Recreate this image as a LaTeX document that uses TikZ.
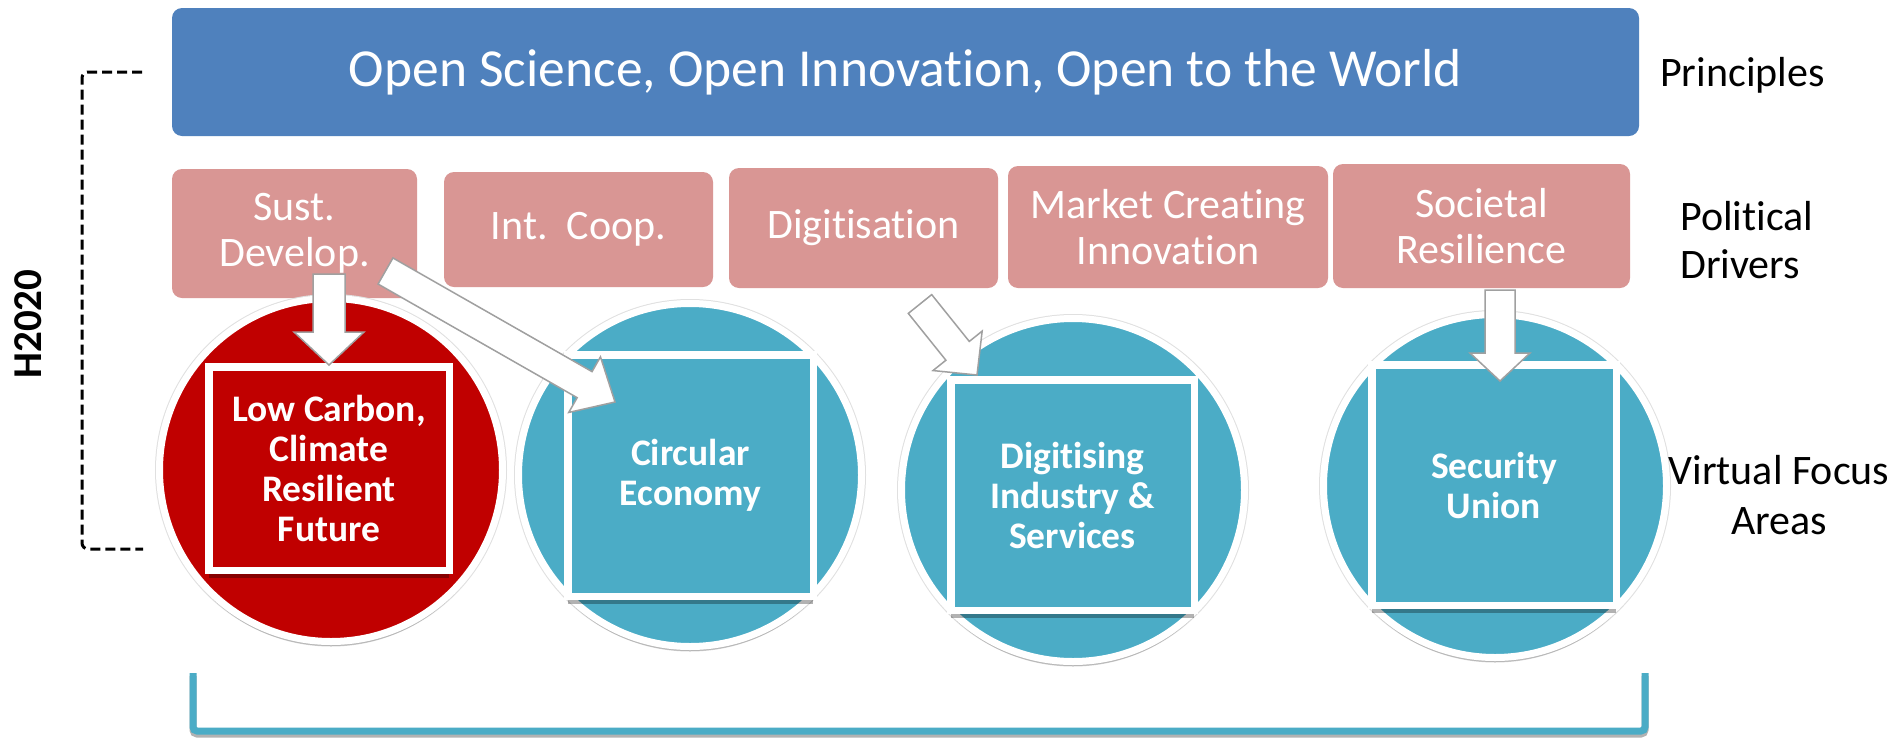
\documentclass[tikz,border=0pt]{standalone}
\usepackage{fontspec}
\setmainfont{Carlito}[Ligatures={NoCommon}]
\usetikzlibrary{calc,shadows}
\definecolor{obblue}{HTML}{4F81BD}
\definecolor{obpink}{HTML}{D99694}
\definecolor{obred}{HTML}{C00000}
\definecolor{obteal}{HTML}{4BACC6}
\definecolor{arrgray}{HTML}{A0A0A0}
\newcommand{\fs}[2]{\fontsize{#1}{#2}\selectfont}
\newcommand{\barrow}[5]{%
  \coordinate (hb) at ($(#2)!#5!(#1)$);
  \draw[blockarr] ($(#1)!#3!90:(#2)$) -- ($(hb)!#3!90:(#2)$) -- ($(hb)!#4!90:(#2)$) -- (#2)
    -- ($(hb)!#4!-90:(#2)$) -- ($(hb)!#3!-90:(#2)$) -- ($(#1)!#3!-90:(#2)$) -- cycle;}
\tikzset{
  bluebox/.style={fill=obblue, rounded corners=10pt, text=white, font=\fs{53.5}{64}, inner sep=0},
  drvbox/.style={fill=obpink, rounded corners=10pt, text=white, align=center, font=\fs{42}{46}, inner sep=0},
  focus/.style={circle, draw=white, line width=7pt, inner sep=0, minimum size=343pt,
    preaction={draw=black!12, line width=9pt},
    drop shadow={shadow xshift=0pt, shadow yshift=-5pt, opacity=.18, fill=black}},
  area/.style={draw=white, line width=7.5pt, align=center, text=white, font=\bfseries\fs{37.5}{40}, inner sep=0,
    drop shadow={shadow xshift=0pt, shadow yshift=-8pt, opacity=.3, fill=black}},
  blockarr/.style={draw=arrgray, fill=white, line width=1.5pt, line join=miter},
  sidelabel/.style={font=\fs{42}{48}, inner sep=0, text=black},
  dashbr/.style={draw=black, line width=3pt, dash pattern=on 10pt off 5pt, rounded corners=6pt},
  tealbr/.style={draw=obteal, line width=7pt, rounded corners=4pt}
}
\begin{document}
\begin{tikzpicture}[x=1pt, y=-1pt]
\useasboundingbox (0,0) rectangle (1891,737);
\fill[white] (0,0) rectangle (1891,737);

% principles
\node[bluebox, minimum width=1467pt, minimum height=128pt] (open) at (905.5,72) {Open Science, Open Innovation, Open to the World};

% political drivers
\node[drvbox, minimum width=245pt, minimum height=129pt] (d1) at (294.5,233.5) {Sust.\\Develop.};
\node[drvbox, minimum width=269pt, minimum height=115pt] (d2) at (578.5,229.5) {Int.\ \ Coop.};
\node[drvbox, minimum width=269pt, minimum height=120pt] (d3) at (863.5,228) {Digitisation};
\node[drvbox, minimum width=320pt, minimum height=122pt] (d4) at (1168,227) {Market Creating\\Innovation};
\node[drvbox, minimum width=297pt, minimum height=124pt] (d5) at (1481.5,226) {Societal\\Resilience};

% focus circles
\node[focus, fill=obred] (c1) at (331,470) {};
\node[focus, fill=obteal] (c2) at (690,475) {};
\node[focus, fill=obteal] (c3) at (1073,490) {};
\node[focus, fill=obteal] (c4) at (1495,486) {};

% focus areas
\node[area, fill=obred, minimum width=240.5pt, minimum height=203.5pt] (f1) at (329,468.5) {Low Carbon,\\Climate\\Resilient\\Future};
\node[area, fill=obteal, minimum width=245.5pt, minimum height=241.5pt] (f2) at (690.5,475.5) {Circular\\Economy};
\node[area, fill=obteal, minimum width=243.5pt, minimum height=230.5pt] (f3) at (1072.5,495) {Digitising\\Industry \&\\Services};
\node[area, fill=obteal, minimum width=244.5pt, minimum height=240.5pt] (f4) at (1494,485) {Security\\Union};

% block arrows
\coordinate (a1t) at (329,274);  \coordinate (a1h) at (329,365);
\coordinate (a2t) at (385.5,271); \coordinate (a2h) at (615,402);
\coordinate (a3t) at (920,304);  \coordinate (a3h) at (977,375);
\coordinate (a4t) at (1500,290); \coordinate (a4h) at (1500,381);
\barrow{a1t}{a1h}{16pt}{35pt}{33pt}
\barrow{a2t}{a2h}{15pt}{32pt}{35pt}
\barrow{a3t}{a3h}{15pt}{31.5pt}{31pt}
\barrow{a4t}{a4h}{15pt}{30pt}{28pt}

% side labels
\node[sidelabel, anchor=west] (lp) at (1660,75) {Principles};
\node[sidelabel, anchor=west, align=left] (ld) at (1680,240) {Political\\Drivers};
\node[sidelabel, align=center, font=\fs{42}{50}] (lv) at (1779,495) {Virtual Focus\\Areas};

% H2020 bracket
\coordinate (bt) at (142,72);
\coordinate (bb) at (143,549);
\draw[dashbr] (bt) -- (82,72) -- (82,549) -- (bb);
\node[rotate=90, font=\bfseries\fs{41}{48}, inner sep=0] (h2020) at (28,324) {H2020};

% bottom bracket
\coordinate (ql) at (193,673);
\coordinate (qr) at (1645,673);
\draw[tealbr, draw=black!30, transform canvas={yshift=-3pt}] (ql) -- (193,731) -- (1645,731) -- (qr);
\draw[tealbr] (ql) -- (193,731) -- (1645,731) -- (qr);
\end{tikzpicture}
\end{document}
